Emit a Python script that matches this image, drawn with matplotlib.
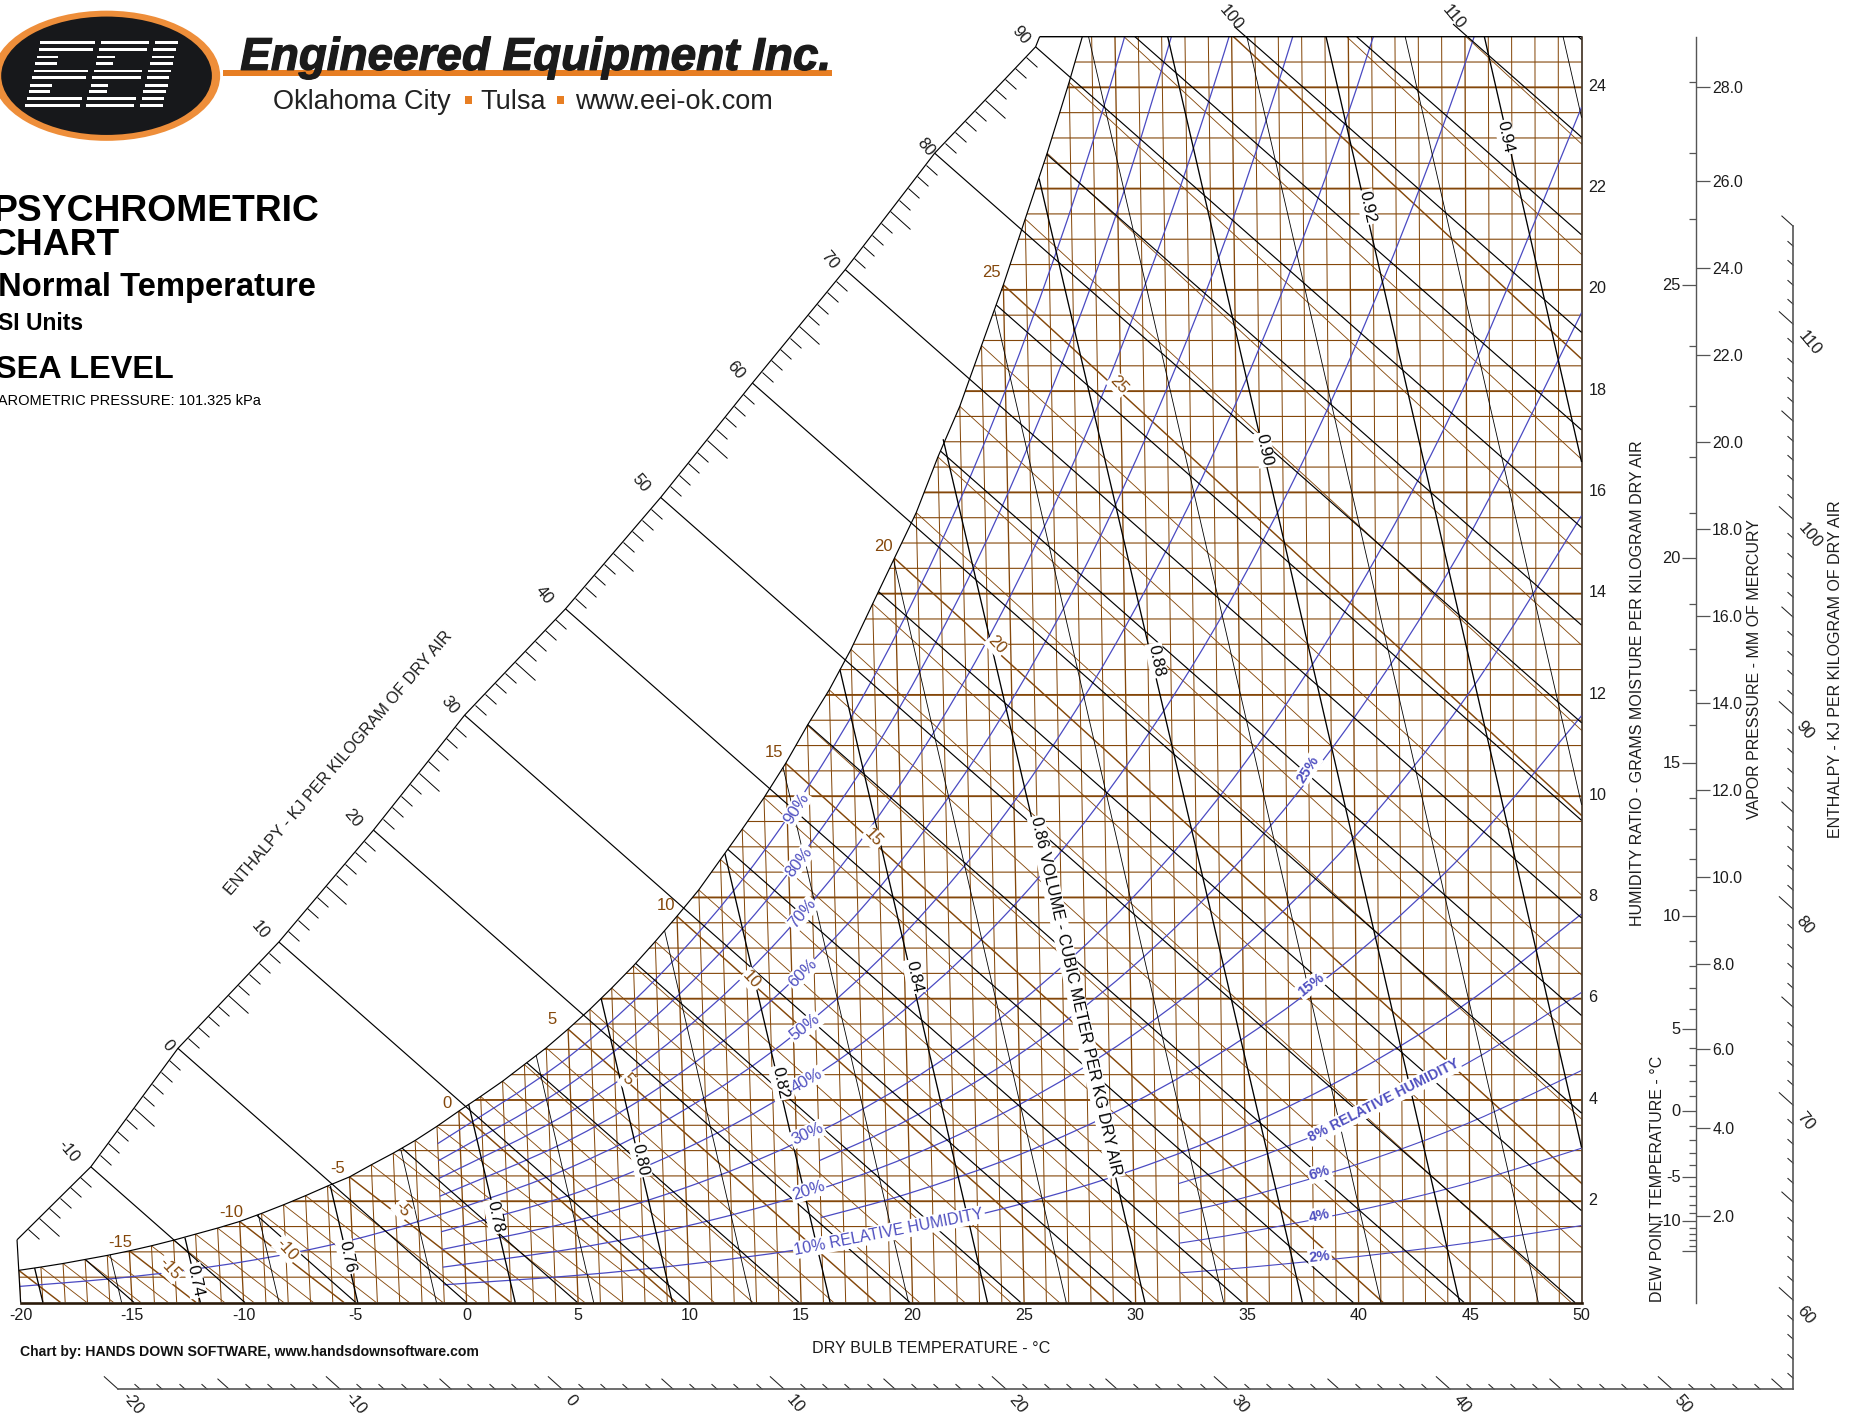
import numpy as np
import matplotlib
matplotlib.use("Agg")
import matplotlib.pyplot as plt
from matplotlib.path import Path
from matplotlib.patches import PathPatch, Ellipse, Rectangle
from matplotlib.transforms import ScaledTranslation
import matplotlib.patheffects as pe

plt.rcParams['font.family'] = ['Liberation Sans', 'DejaVu Sans']

# ---------- data ----------
SAT_T = [-20,-19,-18,-17,-16,-15,-14,-13,-12,-11,-10,-9,-8,-7,-6,-5,-4,-3,-2,-1,0,1,2,3,4,5,6,7,8,9,10,
         11,12,13,14,15,16,17,18,19,20,21,22,23,24,25,26,27,28,28.6]
SAT_W = [.635,.70,.77,.85,.93,1.02,1.12,1.23,1.35,1.47,1.60,1.76,1.93,2.11,2.30,2.48,2.72,2.95,3.20,3.48,3.78,
         4.07,4.37,4.70,5.03,5.40,5.79,6.21,6.65,7.13,7.63,8.15,8.75,9.35,9.97,10.65,11.4,12.1,12.9,13.8,14.7,
         15.6,16.7,17.7,18.9,20.1,21.4,22.7,24.1,25.0]

# wet-bulb lines: start on saturation, end on the zero humidity line
WB_T = list(range(-20, 34))
WB_W = [.635,.70,.77,.85,.93,1.02,1.12,1.23,1.35,1.47,1.60,1.76,1.93,2.11,2.30,2.48,2.72,2.95,3.20,3.48,3.78,
        4.07,4.37,4.70,5.03,5.40,5.79,6.21,6.65,7.13,7.63,8.15,8.75,9.35,9.97,10.65,11.4,12.1,12.9,13.8,14.7,
        15.6,16.7,17.7,18.9,20.1,21.4,22.7,24.1,25.6,27.2,28.87,30.66,32.6]
WB_END = [-18.21,-17.03,-15.83,-14.61,-13.38,-12.13,-10.85,-9.54,-8.20,-6.87,-5.50,-4.05,-2.57,-1.06,.47,1.98,
          3.65,5.30,7.0,8.79,9.40,11.11,12.84,14.65,16.46,18.36,20.31,22.34,24.41,26.58,28.79,31.06,33.51,35.96,
          38.47,41.10,43.92,46.61,49.53,52.70,55.87,59.02,62.66,66.06,69.95,73.80,77.92,82.02,86.35,90.93,95.7,
          100.7,105.95,111.6]

# specific volume lines: lower end (x, w), upper end (x, w)
VOL = [.72,.73,.74,.75,.76,.77,.78,.79,.80,.81,.82,.83,.84,.85,.86,.87,.88,.89,.90,.91,.92,.93,.94,.95]
VOL_X0 = [-19.0,-15.47,-11.94,-8.41,-4.88,-1.35,2.18,5.70,9.23,12.77,16.3,19.82,23.36,26.89,30.42,33.95,37.48,
          41.0,44.53,48.06,50,50,50,50]
VOL_W0 = [0]*20 + [3.06,9.83,16.6,23.4]
VOL_X1 = [-19.37,-15.98,-12.63,-9.34,-6.11,-2.95,.09,3.12,6.03,8.88,11.58,14.19,16.74,19.15,21.37,23.68,25.67,
          27.89,31.44,34.99,38.54,42.09,45.64,49.17]
VOL_W1 = [.68,.945,1.28,1.73,2.30,3.02,3.92,4.88,6.01,7.34,8.87,10.57,12.5,14.66,17.05,19.6,22.2,25,25,25,25,25,25,25]

# relative humidity curves
RH_T = [-1,5,10,15,20,25,30,35,40,45,50]
RH90 = [3.137,4.857,6.858,9.568,13.196,18.02,24.38,32.7]
RH80 = [2.80,4.315,6.093,8.494,11.70,15.97,21.58,28.93]
RH70 = [2.453,3.774,5.325,7.417,10.22,13.93,18.80,25.16,33.4]
RH60 = [2.10,3.233,4.557,6.344,8.74,11.90,16.05,21.45,28.44]
RH50_T = [-20,-15,-10,-5,0,5,10,15,20,25,30,35,40,45]
RH50 = [.318,.508,.799,1.236,1.882,2.690,3.793,5.28,7.266,9.885,13.32,17.77,23.53,30.9]
RH40 = [1.398,2.150,3.031,4.217,5.797,7.883,10.61,14.14,18.68,24.47,31.9]
RH30 = [1.048,1.611,2.270,3.157,4.338,5.893,7.92,10.54,13.91,18.18,23.61]
RH20 = [.698,1.073,1.512,2.101,2.885,3.916,5.258,6.99,9.20,12.0,15.54]
RH10 = [.349,.536,.755,1.049,1.439,1.952,2.618,3.475,4.567,5.943,7.675]
RHM_T = [16,20,25,30,35,40,45,50]
RH25 = [2.803,3.61,4.90,6.59,8.76,11.54,15.07,19.55]
RH15 = [1.678,2.162,2.933,3.935,5.225,6.875,8.956,11.59]
RHL_T = [32,35,40,45,50]
RH08 = [2.348,2.777,3.648,4.746,6.125]
RH06 = [1.758,2.08,2.732,3.552,4.583]
RH04 = [1.172,1.386,1.818,2.364,3.048]
RH02 = [.585,.692,.908,1.18,1.52]

# enthalpy outer scale: where each enthalpy value sits on the outer arc
ARC_H = [-17.06,-10,0,10,20,30,40,50,60,70,80,90,90.7]
ARC_W = [1.24,2.68,5.02,7.12,9.33,11.6,13.7,15.9,18.16,20.4,22.7,24.8,25.0]
ENTH_STEP = list(range(-15, 116, 5))
ENTH_TOP = {100: 25.2, 110: 25.25}

HUM_TICKS = [2,4,6,8,10,12,14,16,18,20,22,24]
DB_TICKS = list(range(-20, 51, 5))
DEW_MAJOR_T = [-15,-10,-5,0,5,10,15,20,25]
DEW_MAJOR_W = [1.02,1.60,2.48,3.78,5.40,7.63,10.65,14.7,20.1]
DEW_LABELS = ['', '-10', '-5', '0', '5', '10', '15', '20', '25']
DEW_MINOR_W = [1.12,1.23,1.35,1.47,1.76,1.93,2.11,2.30,2.72,2.95,3.20,3.48,4.07,4.37,4.70,5.03,5.79,6.21,6.65,7.13,
               8.15,8.75,9.35,9.97,11.4,12.1,12.9,13.8,15.6,16.7,17.7,18.9,21.4,22.7,24.1]
VAP_MM = ['2.0','4.0','6.0','8.0','10.0','12.0','14.0','16.0','18.0','20.0','22.0','24.0','26.0','28.0']
VAP_W = [1.70,3.44,5.0,6.68,8.40,10.12,11.84,13.55,15.27,17.0,18.71,20.43,22.15,24.0]
BOTTOM_H_LABELS = [-20,-10,0,10,20,30,40,50]
RIGHT_H_LABELS = [60,70,80,90,100,110]

BROWN = '#84470a'
BLUE = '#4a4ac2'
LBLUE = '#4f4fc0'
GREY = '#555555'
TXT = '#1c1c1c'

W, H = 1856, 1418
fig = plt.figure(figsize=(W/100, H/100), dpi=100, facecolor='white')
LIFT = ScaledTranslation(0, 1.2/72*0.72, fig.dpi_scale_trans)


def rect(l, t, r, b):
    return [l/W, 1-b/H, (r-l)/W, (b-t)/H]


def lift_labels(labels):
    for lab in labels:
        lab.set_transform(lab.get_transform() + LIFT)


L, T_, R, B = 20.6, 36.7, 1581.6, 1302.5
ax = fig.add_axes(rect(L, T_, R, B), facecolor='none')
ax.set_xlim(-20, 50)
ax.set_ylim(0, 25)
for s in ['left', 'top']:
    ax.spines[s].set_visible(False)
ax.spines['bottom'].set_linewidth(1.9)
ax.spines['bottom'].set_color('#2b1a0a')
ax.spines['right'].set_linewidth(1.1)
ax.spines['right'].set_color('#2b1a0a')
ax.set_xticks(DB_TICKS)
ax.set_xticklabels([str(v) for v in DB_TICKS], fontsize=11.6, color=TXT)
ax.yaxis.tick_right()
ax.set_yticks(HUM_TICKS)
ax.set_yticklabels([str(v) for v in HUM_TICKS], fontsize=11.6, color=TXT)
ax.tick_params(axis='x', length=0, pad=4)
ax.tick_params(axis='y', length=0, pad=5)
lift_labels(ax.get_yticklabels())
lift_labels(ax.get_yticklabels())


def cx(T, w):
    """horizontal chart position of dry bulb T at humidity w (the chart's isotherms lean)."""
    return np.asarray(T, float) + (np.asarray(T, float) - 50) * 0.00185 * np.asarray(w, float)


def enth_x(h, w):
    return (h - 2.594*np.asarray(w, float)) / 1.006


sat_x = cx(SAT_T, SAT_W)
verts = [(-20, 0)] + list(zip(sat_x, SAT_W)) + [(50, 25), (50, 0), (-20, 0)]
region = PathPatch(Path(verts, closed=True), transform=ax.transData, fc='none', ec='none')
ax.add_patch(region)


def inner(xs, ys, **kw):
    kw.setdefault('solid_capstyle', 'butt')
    l, = ax.plot(xs, ys, **kw)
    l.set_clip_box(None)
    l.set_clip_path(region)
    l.set_snap(False)
    return l


def free(xs, ys, **kw):
    kw.setdefault('solid_capstyle', 'butt')
    l, = ax.plot(xs, ys, clip_on=False, **kw)
    l.set_snap(False)
    return l


# dry bulb lines
for t in range(-20, 50):
    major = t % 5 == 0
    inner(cx([t, t], [0, 25]), [0, 25], color=BROWN, lw=0.95 if major else 0.72, zorder=2)
# humidity lines
for i in range(1, 50):
    w = i*0.5
    inner([-21, 50], [w, w], color=BROWN, lw=1.35 if i % 4 == 0 else 0.8, zorder=2)
# wet bulb lines
for t, w, e in zip(WB_T, WB_W, WB_END):
    major = t % 5 == 0
    inner([cx(t, w), e], [w, 0], color=BROWN, lw=1.05 if major else 0.62, zorder=2.2)


# relative humidity curves, drawn as smooth beziers through the read points
def rh_curve(ts, ws, lw=0.9):
    pts = np.column_stack([cx(ts[:len(ws)], ws), ws])
    n = len(pts)
    v = [pts[0]]
    c = [Path.MOVETO]
    for i in range(n-1):
        p0, p1, p2, p3 = pts[max(i-1, 0)], pts[i], pts[i+1], pts[min(i+2, n-1)]
        v += [p1+(p2-p0)/6, p2-(p3-p1)/6, p2]
        c += [Path.CURVE4]*3
    p = PathPatch(Path(v, c), fc='none', ec=BLUE, lw=lw, zorder=3, transform=ax.transData)
    ax.add_patch(p)
    p.set_clip_box(None)
    p.set_clip_path(region)


for ws in [RH90, RH80, RH70, RH60, RH40, RH30, RH20, RH10]:
    rh_curve(RH_T, ws)
rh_curve(RH50_T, RH50)
for ws in [RH25, RH15]:
    rh_curve(RHM_T, ws)
for ws in [RH08, RH06, RH04, RH02]:
    rh_curve(RHL_T, ws, lw=0.8)

# volume lines
for v, x0, w0, x1, w1 in zip(VOL, VOL_X0, VOL_W0, VOL_X1, VOL_W1):
    thick = int(round(v*100)) % 2 == 0
    free([x0, x1], [w0, w1], color='black', lw=0.95 if thick else 0.6, zorder=4)

# enthalpy lines
arc_at = dict(zip(ARC_H, ARC_W))
arc_at.update(ENTH_TOP)
for h in ENTH_STEP:
    w_end = max(0, (h-50.3)/2.594)
    if h in arc_at:
        free(enth_x(h, [w_end, arc_at[h]]), [w_end, arc_at[h]], color='black', lw=0.85, zorder=4)
    else:
        inner(enth_x(h, [w_end, 26]), [w_end, 26], color='black', lw=0.85, zorder=4)

# boundary lines
free(sat_x, SAT_W, color='black', lw=0.85, zorder=5)
arc_x = enth_x(np.array(ARC_H), ARC_W)
free(arc_x, ARC_W, color='black', lw=0.85, zorder=5)
free(cx([-20, -20], [0, 1.24]), [0, 1.24], color='black', lw=0.85, zorder=5)
free([arc_x[-1], 50], [25, 25], color='black', lw=1.0, zorder=5)

# arc ticks
arc_tick = Path([(0, 0), (1, -0.9)])
hs = np.arange(-16, 91)
hs = hs[hs % 10 != 0]
for sel, size in [(hs % 5 != 0, 15.8), (hs % 5 == 0, 28.8)]:
    hh = hs[sel]
    ww = np.interp(hh, ARC_H, ARC_W)
    ax.plot(enth_x(hh, ww), ww, ls='none', marker=arc_tick, ms=size, mew=0.7, mec='black', mfc='none',
            clip_on=False, zorder=5)

# dew point / vapour pressure scale
DX = 1696
dax = fig.add_axes(rect(DX, T_, DX+0.5, B), facecolor='none')
dax.set_ylim(0, 25)
dax.set_xticks([])
for s in ['top', 'bottom', 'right']:
    dax.spines[s].set_visible(False)
dax.spines['left'].set_color(GREY)
dax.spines['left'].set_linewidth(1.0)
dax.set_yticks(DEW_MAJOR_W)
dax.set_yticklabels(DEW_LABELS, fontsize=11.8, color=TXT)
dax.set_yticks(DEW_MINOR_W, minor=True)
dax.tick_params(axis='y', which='major', length=9.8, width=0.9, color=GREY, pad=1)
dax.tick_params(axis='y', which='minor', length=4.7, width=0.9, color=GREY)
lift_labels(dax.get_yticklabels())

vax = fig.add_axes(rect(DX, T_, DX+0.5, B), facecolor='none')
vax.set_ylim(0, 25)
vax.set_xticks([])
for s in vax.spines.values():
    s.set_visible(False)
vax.yaxis.tick_right()
vax.set_yticks(VAP_W)
vax.set_yticklabels(VAP_MM, fontsize=11.4, color=TXT)
vax.tick_params(axis='y', length=9.8, width=0.9, color=GREY, pad=1.5)

# outer enthalpy scales
h_tick = Path([(0, 0), (-1, 0.9)])
hbx = fig.add_axes(rect(118, 1388.5, 1793, 1389), facecolor='none')
hbx.set_xlim(-20, 55.47)
hbx.set_yticks([])
hbx.set_xticks([])
hbx.set_ylim(0, 1)
for s in ['top', 'left', 'right']:
    hbx.spines[s].set_visible(False)
hbx.spines['bottom'].set_color(GREY)
hbx.spines['bottom'].set_linewidth(1.2)

hrx = fig.add_axes(rect(1792.5, 226, 1793, 1388.5), facecolor='none')
hrx.set_ylim(55.47, 115)
hrx.set_xlim(0, 1)
hrx.set_xticks([])
hrx.set_yticks([])
for s in ['top', 'left', 'bottom']:
    hrx.spines[s].set_visible(False)
hrx.spines['right'].set_color(GREY)
hrx.spines['right'].set_linewidth(1.2)


def size_of(h):
    return 21 if h % 10 == 0 else (17.3 if h % 5 == 0 else 8.6)


for size in (21, 17.3, 8.6):
    hb = [h for h in range(-20, 56) if size_of(h) == size]
    hbx.plot(hb, [0]*len(hb), ls='none', marker=h_tick, ms=size, mew=0.75, mec='#222222', mfc='none', clip_on=False)
    hr = [h for h in range(56, 116) if size_of(h) == size]
    hrx.plot([1]*len(hr), hr, ls='none', marker=h_tick, ms=size, mew=0.75, mec='#222222', mfc='none', clip_on=False)

# overlay in reference pixel space for texts and the logo
ov = fig.add_axes([0, 0, 1, 1], facecolor='none', zorder=10)
ov.set_xlim(0, 1568)
ov.set_ylim(1198, 0)
ov.axis('off')

# logo
ov.add_patch(Ellipse((90, 64), 192, 110, fc='#ee8e3a', ec='none'))
ov.add_patch(Ellipse((90, 64), 178, 100, fc='#17181b', ec='none'))
row_y = [36, 42, 48, 53.5, 60, 65.5, 72, 77.5, 83, 89]
full = [1, 1, 0, 0, 1, 1, 0, 0, 1, 1]
for yy, f in zip(row_y, full):
    s = (yy-36)/53*12.5
    e1_r = 80 if f else 52
    e2_r = 126 if f else 100
    for a, b in [(34, e1_r), (85, e2_r), (131, 150)]:
        ov.add_patch(Rectangle((a-s, yy-1.1), b-a, 2.3, fc='white', ec='none'))

ov.add_patch(Rectangle((188, 59.5), 515, 4.5, fc='#e77e23', ec='none', zorder=1))
ov.text(203, 59, 'Engineered Equipment Inc.', fontsize=33.0, fontweight='bold', fontstyle='italic',
        color='#1b1b1b', va='baseline', ha='left', zorder=2,
        path_effects=[pe.withStroke(linewidth=0.9, foreground='#1b1b1b')])
ov.text(231, 92, 'Oklahoma City', fontsize=19.5, color='#222222', va='baseline')
ov.text(406, 92, 'Tulsa', fontsize=19.5, color='#222222', va='baseline')
ov.text(486, 92, 'www.eei-ok.com', fontsize=19.5, color='#222222', va='baseline')
for xx in (392.5, 470.5):
    ov.add_patch(Rectangle((xx, 81), 6, 7, fc='#e77e23', ec='none'))

ov.text(269.5, 186.5, 'PSYCHROMETRIC', fontsize=26.8, fontweight='bold', ha='right', va='baseline', color='black')
ov.text(101, 215.5, 'CHART', fontsize=26.8, fontweight='bold', ha='right', va='baseline', color='black')
ov.text(267, 250, 'Normal Temperature', fontsize=23.6, fontweight='bold', ha='right', va='baseline', color='black')
ov.text(70, 279, 'SI Units', fontsize=16.5, fontweight='bold', ha='right', va='baseline', color='black')
ov.text(147, 319.5, 'SEA LEVEL', fontsize=23.3, fontweight='bold', ha='right', va='baseline', color='black')
ov.text(220.5, 342, 'BAROMETRIC PRESSURE: 101.325 kPa', fontsize=10.5, ha='right', va='baseline', color='black')

ov.text(17, 1146, 'Chart by: HANDS DOWN SOFTWARE, www.handsdownsoftware.com', fontsize=10.12, fontweight='bold',
        va='baseline', color='#111111')
ov.text(786.5, 1139, 'DRY BULB TEMPERATURE - °C', fontsize=11.6, ha='center', va='center', color=TXT)
for xx, yy, txt in [(1383, 577, 'HUMIDITY RATIO - GRAMS MOISTURE PER KILOGRAM DRY AIR'),
                    (1400, 996, 'DEW POINT TEMPERATURE - °C'),
                    (1482, 565, 'VAPOR PRESSURE - MM OF MERCURY'),
                    (1551, 565, 'ENTHALPY - KJ PER KILOGRAM OF DRY AIR')]:
    ov.text(xx, yy, txt, fontsize=11.55, rotation=90, ha='center', va='center', color=TXT)
ov.text(286, 645, 'ENTHALPY - KJ PER KILOGRAM OF DRY AIR', fontsize=11.6, rotation=49.5, ha='center', va='center',
        rotation_mode='anchor', color=TXT)

# enthalpy labels
for txt, xx, yy in [('-10', 58, 973), ('0', 142, 883), ('10', 220, 786), ('20', 298, 691), ('30', 380, 596),
                    ('40', 460, 503), ('50', 541, 408), ('60', 621, 313), ('70', 701, 220), ('80', 782, 124),
                    ('90', 862, 30), ('100', 1040, 15), ('110', 1228, 15)]:
    ov.text(xx, yy, txt, fontsize=12, rotation=-50, ha='center', va='center', color=TXT)
for h, xx in zip(BOTTOM_H_LABELS, [112, 300, 482, 672, 860, 1047, 1235, 1422]):
    ov.text(xx, 1186 if h else 1183, str(h), fontsize=12, rotation=-50, ha='center', va='center', color=TXT)
for h, yy, xx in zip(RIGHT_H_LABELS, [1111, 947, 782, 617, 453, 290], [1525, 1525, 1525, 1525, 1529, 1529]):
    ov.text(xx, yy, str(h), fontsize=12, rotation=-50, ha='center', va='center', color=TXT)

# wet bulb labels
for txt, xx, yy in [('-15', 102, 1050), ('-10', 195, 1024), ('-5', 285, 987), ('0', 378, 932), ('5', 466, 861),
                    ('10', 563, 765), ('15', 654, 636), ('20', 746, 462), ('25', 838, 230)]:
    ov.text(xx, yy, txt, fontsize=12, ha='center', va='center', color=BROWN)
box = dict(fc='white', ec='none', pad=1.0)
for txt, xx, yy in [('-15', 143, 1072), ('-10', 242, 1056), ('-5', 340, 1022), ('5', 530, 912), ('10', 635, 828),
                    ('15', 738, 708), ('20', 842, 545), ('25', 945, 325)]:
    ov.text(xx, yy, txt, fontsize=12, rotation=-47, ha='center', va='center', color=BROWN, bbox=box)

# volume labels
for txt, xx, yy in [('0.74', 165, 1082), ('0.76', 293, 1062), ('0.78', 418, 1028), ('0.80', 541, 980),
                    ('0.82', 659, 915), ('0.84', 772, 825), ('0.88', 977, 558), ('0.90', 1068, 380),
                    ('0.92', 1155, 175), ('0.94', 1272, 116)]:
    ov.text(xx, yy, txt, fontsize=12, rotation=-78, ha='center', va='center', color='black', bbox=box)
ov.text(909, 842, '0.86 VOLUME - CUBIC METER PER KG DRY AIR', fontsize=11.7, rotation=-77.3, ha='center', va='center',
        color='black', bbox=box)

# humidity labels
for txt, xx, yy, rot in [('90%', 673, 683, 57), ('80%', 675, 728, 52), ('70%', 678, 772, 50), ('60%', 678, 822, 45),
                         ('50%', 680, 868, 38), ('40%', 682, 913, 30), ('30%', 682, 958, 25), ('20%', 683, 1006, 18)]:
    ov.text(xx, yy, txt, fontsize=12, rotation=rot, ha='center', va='center', color=LBLUE, bbox=box)
ov.text(751, 1041, '10% RELATIVE HUMIDITY', fontsize=11.4, rotation=11, ha='center', va='center', color=LBLUE, bbox=box)
ov.text(1105, 650, '25%', fontsize=10.5, fontweight='bold', rotation=57, ha='center', va='center', color=LBLUE, bbox=box)
ov.text(1108, 832, '15%', fontsize=10.5, fontweight='bold', rotation=38, ha='center', va='center', color=LBLUE, bbox=box)
ov.text(1169, 930, '8% RELATIVE HUMIDITY', fontsize=10.3, fontweight='bold', rotation=27, ha='center', va='center',
        color=LBLUE, bbox=box)
for txt, yy, rot in [('6%', 991, 17), ('4%', 1027, 12), ('2%', 1062, 6)]:
    ov.text(1115, yy, txt, fontsize=10.5, fontweight='bold', rotation=rot, ha='center', va='center', color=LBLUE, bbox=box)

fig.savefig('out.png', dpi=100, facecolor='white')
